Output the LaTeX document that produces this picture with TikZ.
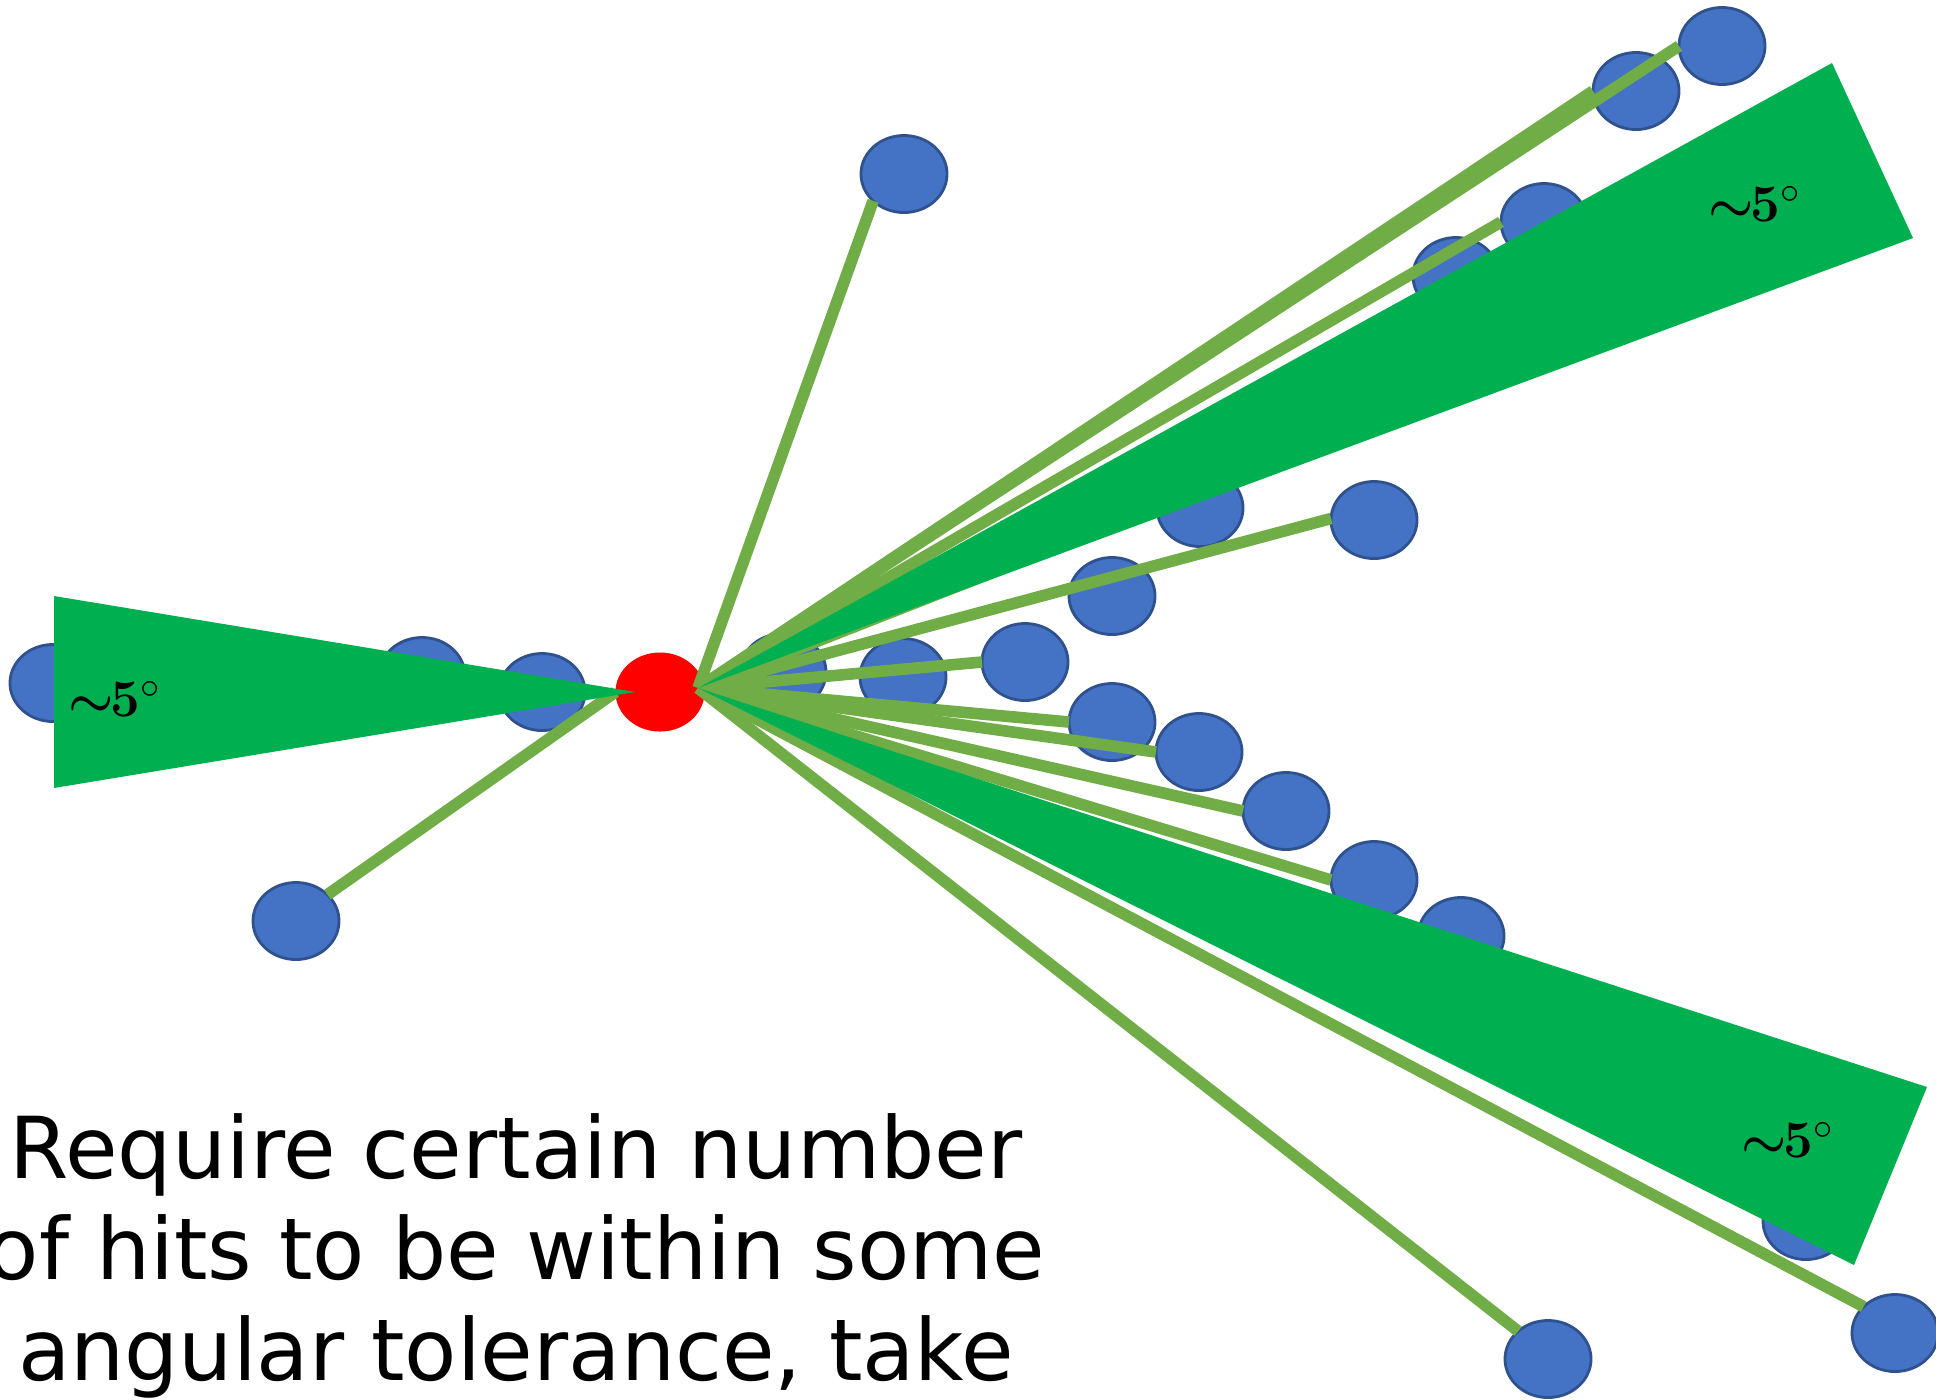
\documentclass[tikz,border=0pt]{standalone}
\usepackage{fontspec}
\newfontfamily\capfont{DejaVu Sans}
\usetikzlibrary{shapes.geometric}
\definecolor{hitblue}{HTML}{4472C4}
\definecolor{hitedge}{HTML}{2F528F}
\definecolor{trkgreen}{HTML}{70AD47}
\definecolor{conegreen}{HTML}{00B050}
\begin{document}
\begin{tikzpicture}[x=0.01cm,y=-0.01cm,
  hit/.style={ellipse, draw=hitedge, fill=hitblue, line width=0.8pt, minimum width=0.86cm, minimum height=0.77cm, inner sep=0pt, outer sep=0pt},
  seed/.style={ellipse, fill=red, minimum width=0.89cm, minimum height=0.79cm, inner sep=0pt, outer sep=0pt},
  trk/.style={draw=trkgreen, line width=3.3pt},
  cone/.style={fill=conegreen},
  ang/.style={font=\fontsize{15}{17}\selectfont, inner sep=0pt},
  caption/.style={font=\capfont\fontsize{24.3}{28.7}\selectfont, align=center, inner sep=0pt}
]
\useasboundingbox (0,0) rectangle (1936,1399);
\clip (0,0) rectangle (1936,1399);

% hits
\node[hit] (e1) at (904,174) {};
\node[hit] (e2) at (1722,46) {};
\node[hit] (e3) at (1636,91) {};
\node[hit] (e4) at (1544,222) {};
\node[hit] (e5) at (1456,276) {};
\node[hit] (e6) at (1200,508) {};
\node[hit] (e7) at (1374,520) {};
\node[hit] (e8) at (1112,596) {};
\node[hit] (e9) at (1025,662) {};
\node[hit] (e10) at (903,677) {};
\node[hit] (e11) at (783,672) {};
\node[hit] (e12) at (1112,722) {};
\node[hit] (e13) at (1199,752) {};
\node[hit] (e14) at (1286,811) {};
\node[hit] (e15) at (1374,880) {};
\node[hit] (e16) at (1461,936) {};
\node[hit] (e17) at (1806,1221) {};
\node[hit] (e18) at (1895,1333) {};
\node[hit] (e19) at (1548,1359) {};
\node[hit] (e20) at (296,921) {};
\node[hit] (e21) at (53,683) {};
\node[hit] (e22) at (422,676) {};
\node[hit] (e23) at (542,692) {};

% seed
\node[seed] (seed) at (660,692) {};
\coordinate (O) at ([xshift=-0.065cm, yshift=0.04cm]seed.east);
\coordinate (W) at (seed.west);
\coordinate (A) at ([xshift=0.2cm]seed.west);

% tracks
\draw[trk] (O) -- (e1.221);
\draw[trk] (O) -- (e2.180);
\draw[trk] (O) -- (e3.180);
\draw[trk] (O) -- (e4.180);
\draw[trk] (O) -- (e6.180);
\draw[trk] (O) -- (e7.178);
\draw[trk] (O) -- (e9.180);
\draw[trk] (O) -- (e12.180);
\draw[trk] (O) -- (e13.180);
\draw[trk] (O) -- (e14.180);
\draw[trk] (O) -- (e15.180);
\draw[trk] (O) -- (e18.140);
\draw[trk] (O) -- (e19.137);
\draw[trk] (W) -- (e20.40);

% cones
\fill[cone] (O) -- (1832,63) -- (1913,238) -- cycle;
\fill[cone] (O) -- (1927,1087) -- (1854,1265) -- cycle;
\fill[cone] (A) -- (54,596) -- (54,788) -- cycle;

% angle labels
\node[ang] (a1) at (115,699) {{\boldmath$\sim$}\kern-1pt\textbf{5}$^{\circ}$};
\node[ang] (a2) at (1755,204) {{\boldmath$\sim$}\kern-1pt\textbf{5}$^{\circ}$};
\node[ang] (a3) at (1788,1140) {{\boldmath$\sim$}\kern-1pt\textbf{5}$^{\circ}$};

% caption
\node[caption, anchor=base] (cap) at (516,1380) {Require certain number\\of hits to be within some\\angular tolerance, take};
\end{tikzpicture}
\end{document}
